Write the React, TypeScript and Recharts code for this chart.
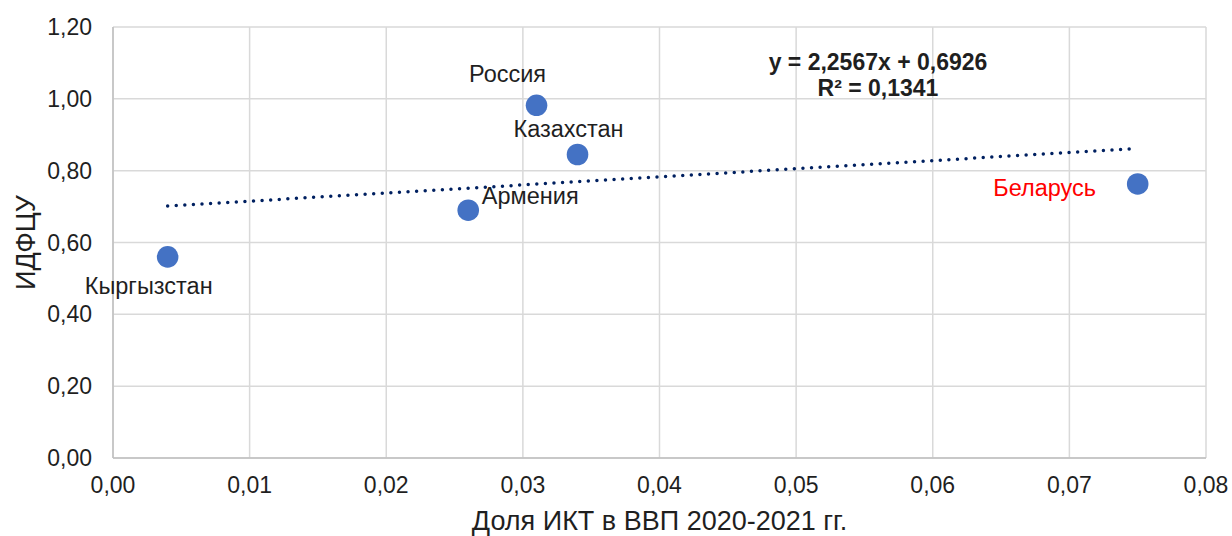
import React from "react";
import {
  ScatterChart,
  Scatter,
  XAxis,
  YAxis,
  CartesianGrid,
  ReferenceLine,
  Customized,
} from "recharts";

// countries and their values
const countries = ["Кыргызстан", "Армения", "Россия", "Казахстан", "Беларусь"];
const ictShare = [0.004, 0.026, 0.031, 0.034, 0.075];
const idfcu = [0.56, 0.69, 0.982, 0.845, 0.763];

const xTicks = [0, 0.01, 0.02, 0.03, 0.04, 0.05, 0.06, 0.07, 0.08];
const yTicks = [0, 0.2, 0.4, 0.6, 0.8, 1.0, 1.2];

// linear trend
const slope = 2.2567;
const intercept = 0.6926;
const rSquared = 0.1341;

const FONT = "'Liberation Sans', Arial, sans-serif";
const TEXT = "#1f1f1f";

// where each country's name sits relative to its dot
const labelPos: Record<string, { dx: number; dy: number; color?: string }> = {
  Кыргызстан: { dx: -19, dy: 29 },
  Армения: { dx: 62, dy: -14 },
  Россия: { dx: -29, dy: -31 },
  Казахстан: { dx: -9, dy: -26 },
  Беларусь: { dx: -93, dy: 4, color: "#ff0000" },
};

const data = countries.map((name, i) => ({ name, x: ictShare[i], y: idfcu[i] }));

const xMin = Math.min(...ictShare);
const xMax = Math.max(...ictShare);
const trend = [
  { x: xMin, y: slope * xMin + intercept },
  { x: xMax, y: slope * xMax + intercept },
];

const comma = (v: number, d: number) => v.toFixed(d).replace(".", ",");

function Dot(props: any) {
  const { cx, cy, payload } = props;
  const pos = labelPos[payload.name];
  return (
    <g>
      <circle cx={cx} cy={cy} r={10.8} fill="#4472C4" />
      <text
        x={cx + pos.dx}
        y={cy + pos.dy}
        textAnchor="middle"
        dominantBaseline="central"
        fontSize={23.5}
        fontFamily={FONT}
        fill={pos.color ?? TEXT}
      >
        {payload.name}
      </text>
    </g>
  );
}

function Equation() {
  return (
    <g fontFamily={FONT} fontSize={23} fontWeight="bold" fill={TEXT} textAnchor="middle">
      <text x={878} y={62} dominantBaseline="central">
        {`y = ${comma(slope, 4)}x + ${comma(intercept, 4)}`}
      </text>
      <text x={878} y={88} dominantBaseline="central">
        {`R² = ${comma(rSquared, 4)}`}
      </text>
    </g>
  );
}

export default function App() {
  return (
    <div style={{ position: "absolute", left: 0, top: 0, background: "#fff" }}>
      <ScatterChart
        width={1232}
        height={536}
        margin={{ top: 27, right: 26, bottom: 0, left: 0 }}
      >
        <CartesianGrid stroke="#d9d9d9" strokeWidth={1.5} />
        <XAxis
          type="number"
          dataKey="x"
          domain={[0, 0.08]}
          ticks={xTicks}
          tickFormatter={(v) => comma(v, 2)}
          height={78}
          tickSize={0}
          tickMargin={19}
          tickLine={false}
          stroke="#bfbfbf"
          strokeWidth={1.5}
          tick={{ fill: TEXT, fontSize: 23, fontFamily: FONT }}
          label={{
            value: "Доля ИКТ в ВВП 2020-2021 гг.",
            position: "insideBottom",
            offset: 6,
            fill: TEXT,
            fontSize: 27,
            fontFamily: FONT,
          }}
        />
        <YAxis
          type="number"
          dataKey="y"
          domain={[0, 1.2]}
          ticks={yTicks}
          tickFormatter={(v) => comma(v, 2)}
          width={113}
          tickSize={0}
          tickMargin={21}
          tickLine={false}
          stroke="#bfbfbf"
          strokeWidth={1.5}
          tick={{ fill: TEXT, fontSize: 23, fontFamily: FONT }}
          label={{
            value: "ИДФЦУ",
            angle: -90,
            position: "insideLeft",
            offset: 25,
            fill: TEXT,
            fontSize: 27,
            fontFamily: FONT,
            style: { textAnchor: "middle" },
          }}
        />
        <ReferenceLine
          segment={trend}
          stroke="#002060"
          strokeWidth={3.5}
          strokeDasharray="0 8.6"
          strokeLinecap="round"
        />
        <Scatter data={data} shape={<Dot />} isAnimationActive={false} />
        <Customized component={Equation} />
      </ScatterChart>
    </div>
  );
}
